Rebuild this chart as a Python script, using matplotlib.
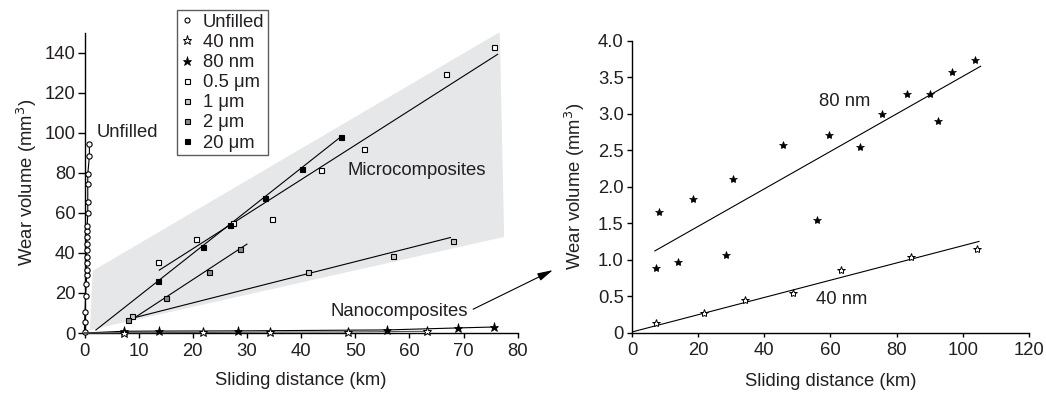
import matplotlib
matplotlib.use('Agg')
import matplotlib.pyplot as plt
from matplotlib.lines import Line2D
from matplotlib.patches import Polygon

plt.rcParams['font.family'] = ['Liberation Sans', 'DejaVu Sans']

C_TEXT = '#231f20'
C_SHADE = '#e6e7e8'

# ── Data: left panel (sliding distance km, wear volume mm3) ──
unfilled_x = [0.0, 0.0, 0.1, 0.2, 0.3, 0.4, 0.4, 0.4, 0.4, 0.4,
              0.4, 0.5, 0.5, 0.5, 0.6, 0.6, 0.6, 0.6, 0.9, 0.9]
unfilled_y = [0.3, 5.3, 10.6, 18.6, 24.3, 28.9, 31.4, 34.8, 38.1, 41.6,
              44.6, 48.0, 50.9, 53.4, 59.9, 65.2, 74.5, 79.3, 88.3, 94.3]

m05_x = [13.6, 20.5, 27.5, 34.6, 43.7, 51.7, 66.8, 75.6]
m05_y = [35.3, 47.2, 55.0, 56.7, 81.3, 92.1, 129.5, 142.8]
m05_fit_x = [13.8, 76.3]
m05_fit_y = [31.4, 139.2]

m1_x = [8.8, 41.2, 56.9, 68.1]
m1_y = [8.5, 30.3, 38.6, 45.9]
m1_fit_x = [8.1, 67.6]
m1_fit_y = [6.9, 47.7]

m2_x = [8.1, 15.1, 22.9, 28.8]
m2_y = [6.5, 17.3, 30.4, 42.2]
m2_fit_x = [8.1, 30.0]
m2_fit_y = [5.6, 44.4]

m20_x = [13.6, 21.9, 26.8, 33.4, 40.2, 47.3]
m20_y = [25.9, 43.2, 54.0, 67.2, 81.8, 97.9]
m20_fit_x = [2.1, 47.3]
m20_fit_y = [1.5, 97.9]

# shaded microcomposite region
shade_x = [1.0, 1.5, 76.7, 77.5]
shade_y = [1.5, 31.0, 150.3, 48.0]

# ── Data: nanocomposites (right panel, also shown on left) ──
n40_x = [7.2, 21.8, 34.3, 48.7, 63.3, 84.2, 104.3]
n40_y = [0.13, 0.27, 0.45, 0.54, 0.86, 1.04, 1.15]
n40_fit_x = [0.0, 104.9]
n40_fit_y = [0.01, 1.25]

n80_x = [7.3, 8.3, 13.8, 18.3, 28.4, 30.4, 45.5, 55.8, 59.5, 69.0,
         75.6, 83.2, 90.1, 92.5, 96.7, 103.6]
n80_y = [0.88, 1.65, 0.97, 1.83, 1.06, 2.10, 2.57, 1.54, 2.71, 2.54,
         3.00, 3.27, 3.27, 2.90, 3.57, 3.74]
n80_fit_x = [6.9, 105.4]
n80_fit_y = [1.12, 3.65]

# points of the nano series that appear on the left panel
n40_left_idx = [0, 1, 2, 3, 4]
n80_left_idx = [0, 2, 4, 7, 9, 10]

left_xticks = list(range(0, 81, 10))
left_yticks = list(range(0, 141, 20))
right_xticks = list(range(0, 121, 20))
right_yticks = [0, 0.5, 1.0, 1.5, 2.0, 2.5, 3.0, 3.5, 4.0]
right_yticklabels = ['0', '0.5', '1.0', '1.5', '2.0', '2.5', '3.0', '3.5', '4.0']

FS = 13.3
fig = plt.figure(figsize=(10.46, 3.94), dpi=100)
fig.patch.set_facecolor('white')

ax1 = fig.add_axes([0.0808, 0.1548, 0.4141, 0.7622])
ax2 = fig.add_axes([0.6042, 0.1556, 0.3795, 0.7411])

for ax in (ax1, ax2):
    for s in ('top', 'right'):
        ax.spines[s].set_visible(False)
    for s in ('left', 'bottom'):
        ax.spines[s].set_linewidth(1.0)
        ax.spines[s].set_color('black')
    ax.tick_params(colors='black', labelcolor=C_TEXT, labelsize=FS, width=1.0)

# ── Left panel ──
ax1.set_xlim(0, 80)
ax1.set_ylim(0, 150)
ax1.add_patch(Polygon(list(zip(shade_x, shade_y)), closed=True,
                      facecolor=C_SHADE, edgecolor='none', zorder=0))

lw = 0.8
sq = dict(marker='s', ms=3.6, mec='black', mew=0.8, ls='none', zorder=4)
ax1.plot(m05_fit_x, m05_fit_y, color='black', lw=lw, zorder=3)
ax1.plot(m1_fit_x, m1_fit_y, color='black', lw=lw, zorder=3)
ax1.plot(m2_fit_x, m2_fit_y, color='black', lw=lw, zorder=3)
ax1.plot(m20_fit_x, m20_fit_y, color='black', lw=lw, zorder=3)
ax1.plot(m05_x, m05_y, mfc='white', **sq)
ax1.plot(m1_x, m1_y, mfc='#c8c8c8', **sq)
ax1.plot(m2_x, m2_y, mfc='#8a8a8a', **sq)
ax1.plot(m20_x, m20_y, mfc='black', **sq)

ax1.plot(unfilled_x, unfilled_y, color='black', lw=lw, marker='o', ms=3.8,
         mfc='white', mec='black', mew=0.8, clip_on=False, zorder=5)

n40_lx = [0] + [n40_x[i] for i in n40_left_idx]
n40_ly = [0] + [n40_y[i] for i in n40_left_idx]
n80_lx = [0] + [n80_x[i] for i in n80_left_idx]
n80_ly = [0] + [n80_y[i] for i in n80_left_idx]
ax1.plot(n80_lx, n80_ly, color='black', lw=lw, zorder=5, clip_on=False)
ax1.plot(n80_lx[1:], n80_ly[1:], ls='none', marker='*', ms=6.5, mfc='black',
         mec='black', mew=0.5, zorder=6, clip_on=False)
ax1.plot(n40_lx, n40_ly, color='#555555', lw=lw, zorder=5, clip_on=False)
ax1.plot(n40_lx[1:], n40_ly[1:], ls='none', marker='*', ms=6.5, mfc='white',
         mec='black', mew=0.7, zorder=6, clip_on=False)

ax1.text(2.3, 100.2, 'Unfilled', fontsize=FS, color=C_TEXT, ha='left', va='center')
ax1.text(48.6, 81.3, 'Microcomposites', fontsize=FS, color=C_TEXT, ha='left', va='center')
ax1.annotate('Nanocomposites', xy=(86.5, 31.4), xytext=(70.8, 10.6),
             fontsize=FS, color=C_TEXT, ha='right', va='center',
             annotation_clip=False,
             arrowprops=dict(arrowstyle='-|>,head_length=0.7,head_width=0.18',
                             color='black', lw=0.8, relpos=(1.0, 0.5),
                             shrinkA=2, shrinkB=0))

ax1.set_xticks(left_xticks)
ax1.set_yticks(left_yticks)
ax1.tick_params(axis='y', direction='out', length=5, pad=1.5)
ax1.tick_params(axis='x', direction='out', length=3.6, pad=3.5)
ax1.set_xlabel('Sliding distance (km)', fontsize=FS, color=C_TEXT, va='center')
ax1.set_ylabel('Wear volume (mm$^3$)', fontsize=FS, color=C_TEXT, va='center')
ax1.xaxis.set_label_coords(0.5, -47 / 300.3)
ax1.yaxis.set_label_coords(-58 / 433.2, 0.5)

# ── Right panel ──
ax2.set_xlim(0, 120)
ax2.set_ylim(0, 4.0)
ax2.plot(n80_fit_x, n80_fit_y, color='black', lw=lw, zorder=3)
ax2.plot(n40_fit_x, n40_fit_y, color='black', lw=lw, zorder=3)
ax2.plot(n80_x, n80_y, ls='none', marker='*', ms=6, mfc='black',
         mec='black', mew=0.5, zorder=4)
ax2.plot(n40_x, n40_y, ls='none', marker='*', ms=6, mfc='white',
         mec='black', mew=0.7, zorder=4)
ax2.text(64.4, 3.17, '80 nm', fontsize=FS, color=C_TEXT, ha='center', va='center')
ax2.text(63.3, 0.45, '40 nm', fontsize=FS, color=C_TEXT, ha='center', va='center')

ax2.set_xticks(right_xticks)
ax2.set_yticks(right_yticks)
ax2.set_yticklabels(right_yticklabels)
ax2.tick_params(axis='y', direction='out', length=3.4, pad=2.5)
ax2.tick_params(axis='x', direction='out', length=3, pad=4)
ax2.set_xlabel('Sliding distance (km)', fontsize=FS, color=C_TEXT, va='center')
ax2.set_ylabel('Wear volume (mm$^3$)', fontsize=FS, color=C_TEXT, va='center')
ax2.xaxis.set_label_coords(0.5, -49 / 292.0)
ax2.yaxis.set_label_coords(-57 / 397.0, 0.5)

# ── Legend (sits above the left panel) ──
handles = [
    Line2D([], [], ls='none', marker='o', ms=3.6, mfc='white', mec='black', mew=0.8),
    Line2D([], [], ls='none', marker='*', ms=6.5, mfc='white', mec='black', mew=0.7),
    Line2D([], [], ls='none', marker='*', ms=6.5, mfc='black', mec='black', mew=0.5),
    Line2D([], [], ls='none', marker='s', ms=3.6, mfc='white', mec='black', mew=0.8),
    Line2D([], [], ls='none', marker='s', ms=3.6, mfc='#c8c8c8', mec='black', mew=0.8),
    Line2D([], [], ls='none', marker='s', ms=3.6, mfc='#8a8a8a', mec='black', mew=0.8),
    Line2D([], [], ls='none', marker='s', ms=3.6, mfc='black', mec='black', mew=0.8),
]
labels = ['Unfilled', '40 nm', '80 nm', '0.5 μm', '1 μm', '2 μm', '20 μm']
leg = fig.legend(handles, labels, loc='upper left',
                 bbox_to_anchor=(177 / 1046, 1 - 10 / 394),
                 fontsize=FS, frameon=True, fancybox=False, borderaxespad=0,
                 borderpad=0.2, labelspacing=0.17, handlelength=0.7,
                 handletextpad=0.5, labelcolor=C_TEXT)
leg.get_frame().set_edgecolor('#333333')
leg.get_frame().set_linewidth(1.0)

fig.savefig('out.png', dpi=100, facecolor='white')
